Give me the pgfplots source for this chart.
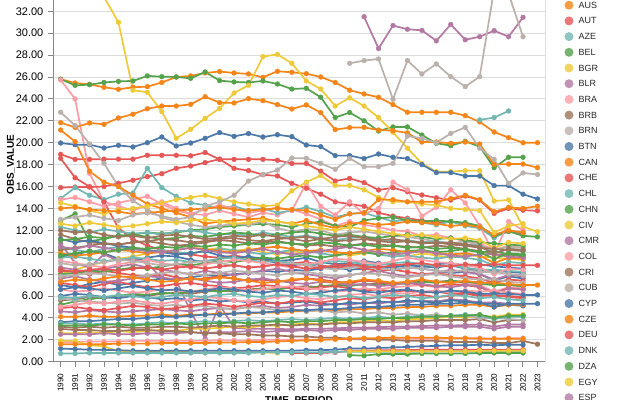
\documentclass[border=0pt]{standalone}
\usepackage{pgfplots}
\usepackage{pgfplotstable}
\pgfplotsset{compat=1.18}
\usepackage{fontspec}
\setmainfont{Liberation Sans}

\definecolor{cblue}{HTML}{4C78A8}
\definecolor{corange}{HTML}{F58518}
\definecolor{cred}{HTML}{E45756}
\definecolor{cteal}{HTML}{72B7B2}
\definecolor{cgreen}{HTML}{54A24B}
\definecolor{cyellow}{HTML}{EECA3B}
\definecolor{cpurple}{HTML}{B279A2}
\definecolor{cpink}{HTML}{FF9DA6}
\definecolor{cbrown}{HTML}{9D755D}
\definecolor{cgray}{HTML}{BAB0AC}
\definecolor{viewgray}{HTML}{DDDDDD}
\definecolor{axisgray}{HTML}{888888}

% one row per reporting area, one column per year
\pgfplotstableread{
name 1990 1991 1992 1993 1994 1995 1996 1997 1998 1999 2000 2001 2002 2003 2004 2005 2006 2007 2008 2009 2010 2011 2012 2013 2014 2015 2016 2017 2018 2019 2020 2021 2022 2023
ARG 9.6 9.8 10.1 9.9 9.4 9.2 9.5 9.7 9.6 9.3 9.1 9.4 9.6 9.5 9.3 9.0 8.8 8.9 8.6 8.7 8.9 8.8 8.5 8.4 8.6 8.5 8.3 8.1 8.2 8.0 7.4 7.8 7.6 nan
AUS 25.8 25.45 25.33 25.06 24.88 25.06 25.12 25.5 26.0 26.1 26.37 26.5 26.37 26.28 25.97 26.52 26.43 26.3 26.0 25.5 24.8 24.45 24.15 23.48 22.78 22.78 22.78 22.78 22.47 21.9 20.98 20.46 20.0 20.0
AUT 18.94 18.48 18.48 18.5 18.5 18.5 18.85 18.85 18.85 18.8 19.1 18.48 18.48 18.48 18.48 18.4 18.1 18.11 17.4 16.5 16.74 16.35 15.68 15.89 15.52 15.22 14.97 14.76 15.13 14.76 13.54 14.0 13.84 13.78
AZE nan nan nan nan nan nan nan nan nan nan nan nan nan nan nan nan nan nan nan nan nan nan nan nan nan nan nan nan nan 22.08 22.3 22.9 nan nan
BEL 25.8 25.24 25.3 25.5 25.6 25.64 26.1 26.03 26.0 25.88 26.46 25.67 25.55 25.5 25.64 25.36 24.9 24.97 24.15 22.3 22.75 22.0 21.07 21.44 21.44 20.7 19.95 19.73 20.13 19.64 17.72 18.67 18.67 nan
BGR 37 36 35 33.3 31.0 24.8 24.6 22.84 20.4 21.22 22.23 23.14 24.54 25.24 27.86 28.07 27.25 25.64 24.9 23.35 24.1 23.35 22.3 20.95 19.5 18.1 17.35 17.35 17.45 17.45 14.67 14.77 12.33 11.87
BLR nan nan nan nan nan nan nan nan nan nan nan nan nan nan nan nan nan nan nan nan nan 31.5 28.6 30.7 30.36 30.26 29.3 30.8 29.4 29.68 30.23 29.68 31.45 nan
BRA 25.73 24.0 17.2 14.6 14.2 13.8 14.3 14.6 14.0 13.5 13.4 13.8 13.5 13.2 13.6 13.4 13.9 13.5 13.0 12.4 12.8 12.5 12.3 12.0 11.9 11.5 11.6 11.3 11.0 10.8 10.2 10.6 10.4 nan
BRB 11.6 11.2 10.9 10.8 10.7 10.9 11.0 10.8 10.6 10.7 10.9 11.1 11.0 10.8 10.9 11.0 10.8 10.6 10.7 10.5 10.6 10.8 10.7 10.6 10.5 10.4 10.6 10.5 10.3 10.1 9.8 9.8 9.6 nan
BRN nan nan nan nan nan nan nan nan nan nan nan nan nan nan nan nan nan nan nan nan 27.25 27.5 27.65 23.96 27.5 26.28 27.19 26.03 25.12 26.03 34.0 33.6 29.68 nan
BTN 19.97 19.82 19.82 19.52 19.76 19.61 20.0 20.52 19.7 19.97 20.4 20.92 20.58 20.83 20.52 20.73 20.55 19.79 19.64 18.82 18.82 18.55 18.97 18.67 18.55 18.0 17.27 17.27 16.96 16.96 16.08 16.08 15.3 14.86
CAN 21.83 21.4 21.8 21.68 22.26 22.6 23.1 23.35 23.35 23.5 24.2 23.66 23.63 24.02 23.84 23.48 23.08 23.45 22.75 21.2 21.38 21.4 21.16 21.1 20.9 20.06 20.06 19.95 20.06 19.88 18.0 18.05 18.05 17.72
CHE 15.9 15.95 15.95 16.0 16.3 16.57 16.9 17.17 17.66 17.87 18.18 18.5 17.66 17.45 17.08 16.96 16.29 15.84 15.3 14.6 14.4 14.2 13.6 13.3 13.1 12.9 12.7 12.8 12.6 12.3 11.4 11.9 11.7 nan
CHL 14.9 15.9 15.2 14.8 15.3 15.4 17.66 15.9 15.1 14.5 14.3 14.0 14.2 13.8 14.0 13.6 13.8 14.1 13.7 13.2 13.5 13.6 13.2 12.8 13.0 12.7 12.5 12.8 12.4 12.2 11.3 12.0 11.8 nan
CHN 12.9 13.5 11.0 11.2 11.5 11.6 11.8 11.7 11.8 12.0 12.1 12.3 12.4 12.5 12.6 12.5 12.3 12.6 12.8 12.4 12.3 12.9 13.1 13.2 12.9 12.8 12.9 12.8 12.7 12.4 11.5 11.9 11.5 11.4
CIV 8.0 8.4 8.8 9.1 9.4 9.6 9.9 10.1 10.0 9.8 10.2 10.4 10.1 10.3 10.0 9.8 10.1 9.9 10.2 10.0 9.7 9.9 10.1 9.8 9.6 9.9 9.7 9.5 9.8 9.6 9.5 9.4 9.3 nan
CMR 10.8 9.0 8.6 9.8 9.2 9.4 9.0 7.6 7.4 4.6 2.1 5.2 3.1 3.0 3.0 3.0 2.95 3.0 3.0 3.05 3.1 3.1 3.15 3.2 3.2 3.25 3.3 3.3 3.35 3.4 3.2 3.4 3.4 nan
COL 14.8 15.0 14.6 14.2 14.5 14.8 15.1 14.4 13.8 13.5 13.9 14.3 14.0 13.6 13.8 14.1 13.8 16.3 14.2 13.4 14.6 13.5 14.0 16.4 15.7 13.3 14.1 15.7 14.5 12.4 9.8 12.8 12.0 nan
CRI 5.6 5.7 5.9 5.8 6.0 6.1 6.0 6.2 6.3 6.2 6.4 6.5 6.4 6.6 6.7 6.6 6.8 6.9 6.8 7.0 7.1 7.0 7.2 7.1 7.3 7.4 7.3 7.4 7.2 7.3 7.1 7.0 6.9 nan
CUB 22.78 21.56 19.88 18.12 16.0 14.7 13.9 13.2 12.8 12.5 12.3 12.4 12.6 12.5 12.8 12.2 11.9 12.1 12.0 11.6 11.8 11.9 11.7 11.5 11.4 11.2 11.0 10.8 11.0 10.6 10.2 10.5 10.4 nan
CYP 7.0 6.8 7.1 7.3 7.0 7.2 7.4 7.6 7.5 7.7 7.9 7.8 8.0 8.1 8.3 8.2 8.4 8.3 8.5 8.6 8.4 8.5 8.7 8.6 8.8 8.7 8.9 9.0 8.8 8.9 8.7 8.6 8.5 nan
CZE 21.16 20.1 17.4 16.4 16.0 15.2 14.4 14.0 13.6 13.2 12.6 12.8 12.9 13.0 13.1 12.8 12.6 12.9 12.5 12.2 12.6 12.7 12.5 12.6 12.8 12.7 12.6 12.4 12.5 12.3 11.6 12.0 11.8 nan
DEU 18.57 16.8 15.98 14.6 12.2 11.2 10.6 10.2 9.9 9.8 9.6 9.5 9.7 9.5 9.3 9.2 9.0 9.1 8.8 8.6 8.7 8.5 8.3 8.4 8.2 8.0 8.1 7.9 7.8 7.6 7.2 7.5 7.4 nan
DNK 10.4 10.2 10.0 10.3 10.5 10.3 10.1 10.2 10.0 9.9 10.1 10.3 10.2 10.0 9.8 10.0 10.2 10.1 9.9 9.7 9.9 10.0 9.8 9.6 9.7 9.5 9.4 9.6 9.5 9.3 8.8 9.1 9.0 nan
DZA 5.2 5.5 5.7 5.9 6.0 6.2 6.1 6.3 6.2 6.4 6.5 6.4 6.6 6.5 6.7 6.6 6.8 6.7 6.9 7.0 6.9 7.1 7.0 7.2 7.1 7.3 7.2 7.4 7.3 7.1 7.0 7.0 6.9 nan
EGY 14.5 14.2 13.8 13.5 13.9 14.0 14.2 14.5 14.8 15.0 15.2 14.9 14.6 14.4 14.2 14.3 15.6 16.4 17.0 16.1 16.1 15.7 15.0 14.6 14.6 14.4 14.3 14.0 13.9 13.8 11.8 12.4 12.6 nan
ESP 8.6 8.4 8.2 8.5 8.7 8.9 8.6 8.4 8.2 8.0 8.3 8.1 7.9 8.1 8.3 8.5 8.2 8.0 7.8 7.6 7.9 8.1 8.3 8.0 7.8 7.9 8.1 8.4 8.2 8.0 7.5 7.9 7.8 nan
EST 11.2 10.9 11.1 10.8 10.6 10.4 10.2 10.0 9.8 9.9 10.1 9.7 9.5 9.6 9.4 9.2 9.3 9.5 9.1 8.9 9.0 9.2 9.0 8.8 8.9 8.7 8.6 8.8 8.5 8.3 8.3 8.2 8.1 nan
ETH 14.0 14.1 13.9 13.8 13.7 13.5 13.6 13.7 13.8 13.9 14.0 14.1 13.9 13.8 13.9 14.0 13.9 13.8 13.4 13.0 13.5 13.6 14.8 14.8 14.6 14.6 14.6 14.9 15.2 14.8 13.7 14.1 14.0 14.2
FIN 7.2 7.0 6.8 7.1 7.3 7.0 6.8 6.9 7.1 7.2 7.0 6.9 6.7 6.8 7.0 6.9 6.7 6.6 6.8 6.9 6.7 6.5 6.6 6.4 6.5 6.3 6.4 6.2 6.3 6.1 6.0 6.0 5.9 nan
FRA 12.3 12.0 11.8 12.1 11.9 11.7 11.8 11.6 11.9 12.0 11.8 11.6 11.7 11.5 11.8 11.6 11.4 11.5 11.3 11.1 11.3 11.4 11.2 11.0 11.1 10.9 11.0 10.8 10.7 10.6 9.9 10.3 10.2 nan
GBR 11.1 11.2 11.4 11.3 11.5 11.6 11.4 11.2 11.3 11.5 11.4 11.6 11.8 11.7 11.5 11.6 11.8 11.9 11.7 11.5 11.6 11.4 11.3 11.5 11.6 11.4 11.2 11.3 11.1 10.9 10.8 10.7 10.6 nan
GEO 2.6 2.6 2.7 2.6 2.8 2.7 2.8 2.9 2.8 3.0 3.0 3.1 3.2 3.1 3.3 3.3 3.4 3.5 3.4 3.6 3.6 3.7 3.8 3.7 3.9 3.9 4.0 4.1 4.0 4.2 4.1 4.3 4.3 nan
GHA 4.6 4.5 4.7 4.6 4.5 4.6 4.7 4.8 4.7 4.6 4.8 4.9 4.8 5.0 5.1 4.9 5.0 5.2 5.1 5.3 5.2 5.4 5.3 5.5 5.4 5.6 5.5 5.7 5.6 5.4 5.4 5.3 5.2 nan
GRC 6.6 6.4 6.5 6.7 6.5 6.3 6.4 6.6 6.5 6.4 6.6 6.8 6.7 6.5 6.6 6.8 6.9 6.7 6.6 6.4 6.5 6.7 6.6 6.8 6.9 7.0 6.8 6.9 7.1 7.0 6.4 6.8 6.7 nan
HRV 3.2 3.1 3.2 3.1 3.2 3.1 3.1 3.2 3.2 3.1 3.2 3.3 3.2 3.3 3.3 3.4 3.3 3.4 3.4 3.5 3.5 3.6 3.6 3.6 3.7 3.7 3.8 3.8 3.8 3.9 3.6 3.8 3.8 nan
HUN 13.0 13.2 13.4 13.1 12.9 13.4 13.6 13.3 13.0 13.2 14.2 14.6 15.2 16.5 17.1 17.5 18.6 18.57 18.11 17.57 18.57 17.81 17.81 18.11 20.61 20.4 20.0 20.85 21.4 19.5 18.48 16.29 17.24 17.1
IDN 6.0 6.2 6.1 5.9 5.8 6.0 5.9 5.7 5.8 5.6 5.7 5.5 5.6 5.4 5.5 5.3 5.4 5.5 5.3 5.2 5.4 5.3 5.5 5.4 5.6 5.5 5.4 5.6 5.5 5.3 5.3 5.2 5.1 nan
IND 4.1 4.1 4.2 4.1 4.1 4.2 4.2 4.3 4.2 4.3 4.3 4.4 4.4 4.4 4.5 4.5 4.6 4.6 4.7 4.7 4.8 4.8 4.9 4.9 5.0 5.0 5.1 5.1 5.2 5.2 5.0 5.2 5.2 nan
IRL 8.4 8.2 8.0 8.3 8.1 7.9 7.8 8.0 7.7 7.5 7.6 7.8 7.6 7.4 7.5 7.3 7.4 7.6 7.5 7.3 7.2 7.4 7.3 7.1 7.2 7.0 6.9 7.1 7.0 6.8 6.3 6.7 6.6 nan
ISL 9.5 9.6 9.4 9.2 9.3 9.5 9.4 9.2 9.3 9.1 9.2 9.4 9.5 9.3 9.1 9.2 9.0 8.8 9.0 9.2 9.1 8.9 8.8 9.0 9.1 8.9 8.7 8.8 8.6 8.4 8.4 8.3 8.2 nan
ISR 8.0 8.1 8.3 8.2 8.4 8.6 8.5 8.7 8.9 8.8 9.0 9.2 9.1 9.3 9.5 9.4 9.6 9.7 9.5 9.7 9.9 10.0 9.8 10.0 10.1 10.2 10.0 10.1 10.3 10.0 10.1 9.8 9.7 nan
ITA 12.6 12.4 12.7 12.5 12.3 12.4 12.6 12.8 12.7 12.9 13.0 12.8 12.6 12.7 12.9 12.8 12.6 12.4 12.2 12.0 12.3 12.1 11.9 11.7 11.5 11.6 11.4 11.2 11.3 11.1 10.4 10.9 10.8 nan
JAM 7.6 7.8 7.5 7.3 7.4 7.6 7.8 7.7 7.5 7.6 7.4 7.2 7.3 7.5 7.6 7.4 7.2 7.1 7.3 7.2 7.0 7.1 6.9 7.0 7.2 7.1 6.9 6.8 7.0 6.9 6.2 6.7 6.6 nan
JPN 1.8 1.8 1.85 1.85 1.85 1.9 1.9 1.9 1.9 1.9 1.9 1.95 1.95 1.95 2.0 2.0 2.0 2.0 2.0 2.05 2.05 2.05 2.1 2.1 2.1 2.1 2.1 2.15 2.15 2.15 2.1 2.15 2.15 nan
KAZ 10.2 10.4 10.6 10.8 10.7 10.9 11.0 11.2 11.1 10.9 11.0 11.2 11.3 11.1 11.0 11.2 11.3 11.4 11.2 11.0 11.1 11.2 11.0 10.9 11.0 10.8 10.9 10.7 10.6 10.4 10.3 10.2 10.1 nan
KEN 5.8 5.6 5.5 5.4 5.3 5.4 5.2 5.1 5.2 5.0 5.1 4.9 4.8 5.0 4.9 4.7 4.8 4.6 4.7 4.5 4.6 4.4 4.5 4.3 4.4 4.2 4.3 4.1 4.2 4.0 4.0 3.9 3.8 nan
KOR 3.6 3.7 3.7 3.8 3.9 3.9 4.0 4.1 4.1 4.2 4.3 4.3 4.4 4.5 4.5 4.6 4.7 4.7 4.8 4.8 4.9 5.0 5.0 5.1 5.2 5.2 5.3 5.3 5.4 5.4 5.0 5.3 5.3 5.3
LKA 9.9 9.7 9.8 10.0 10.2 10.1 9.9 10.0 10.2 10.4 10.3 10.1 10.0 10.2 10.4 10.5 10.3 10.1 10.2 10.0 9.9 10.1 10.3 10.2 10.0 10.1 9.9 9.8 9.9 9.7 9.0 9.5 9.4 nan
LTU 4.9 5.0 4.8 4.7 4.9 5.1 5.0 4.8 4.9 5.1 5.3 5.2 5.0 5.2 5.4 5.3 5.5 5.6 5.4 5.6 5.8 5.7 5.9 5.8 6.0 6.1 5.9 6.0 6.2 6.0 6.1 5.9 5.8 nan
LUX 3.5 3.5 3.4 3.5 3.4 3.4 3.5 3.6 3.5 3.6 3.7 3.6 3.7 3.8 3.7 3.8 3.9 3.8 3.9 4.0 3.9 4.0 4.1 4.0 4.1 4.2 4.1 4.2 4.3 4.2 3.9 4.1 4.1 nan
LVA 3.3 3.3 3.3 3.4 3.4 3.3 3.4 3.4 3.5 3.4 3.5 3.5 3.6 3.5 3.6 3.7 3.6 3.7 3.7 3.8 3.8 3.9 3.9 4.0 4.0 4.1 4.1 4.2 4.2 4.3 4.0 4.2 4.2 nan
MAR 1.9 1.9 1.5 1.4 0.95 0.9 0.9 0.9 0.9 0.9 0.8 0.85 0.85 0.85 0.85 0.8 nan nan nan nan nan nan nan nan nan nan nan nan nan nan nan nan nan nan
MEX 2.5 2.5 2.5 2.6 2.5 2.5 2.6 2.6 2.6 2.7 2.6 2.7 2.7 2.8 2.7 2.8 2.8 2.9 2.8 2.9 2.9 3.0 3.0 3.0 3.1 3.1 3.1 3.2 3.2 3.2 3.0 3.2 3.2 nan
MLT 9.2 9.0 8.8 8.6 8.9 9.1 9.3 9.0 8.8 8.6 8.9 9.1 9.3 9.2 9.0 8.8 8.6 8.9 9.1 9.4 9.3 9.1 8.9 9.2 9.5 9.3 9.1 9.0 8.8 8.6 8.0 8.5 8.4 nan
MNG 3.0 2.9 2.9 2.8 2.8 2.9 2.9 2.8 2.8 2.7 2.6 2.6 2.5 2.5 2.4 2.4 2.3 2.3 2.2 2.2 2.1 2.1 2.0 2.0 1.9 1.9 1.9 1.8 1.8 1.8 1.7 1.7 1.9 1.6
NLD 7.8 7.9 8.1 8.0 7.8 7.7 7.9 8.1 8.2 8.0 7.9 8.1 8.3 8.2 8.0 7.9 8.1 8.2 8.0 7.8 7.9 8.1 8.0 7.8 7.7 7.9 8.0 7.8 7.6 7.5 7.5 7.3 7.2 nan
NOR 1.2 1.15 1.1 1.08 1.05 1.0 1.0 1.0 1.0 1.0 1.0 1.0 1.0 1.0 1.0 1.0 1.0 1.05 1.05 1.1 1.2 1.2 1.25 1.3 1.35 1.4 1.45 1.5 1.5 1.55 1.5 1.55 1.55 nan
NZL 1.6 1.6 1.6 1.6 1.65 1.65 1.65 1.7 1.7 1.7 1.7 1.75 1.75 1.8 1.8 1.85 1.9 1.95 2.0 2.05 2.1 2.15 2.15 2.2 2.2 2.2 2.2 2.15 2.15 2.1 2.1 2.1 2.1 nan
PER nan nan nan nan nan nan nan nan nan nan nan nan nan nan nan nan 0.8 0.8 0.8 0.85 1.0 1.0 1.05 1.05 1.05 1.1 1.1 1.1 1.1 1.1 1.1 1.1 1.1 nan
PHL 0.75 0.75 0.8 0.8 0.8 0.8 0.8 0.8 0.8 0.8 0.8 0.8 0.8 0.8 0.85 0.85 0.85 0.85 0.85 0.9 0.9 0.9 0.9 0.9 0.9 0.9 0.95 0.95 0.95 0.95 0.95 0.95 0.95 nan
POL nan nan nan nan nan nan nan nan nan nan nan nan nan nan nan nan nan nan nan nan 0.6 0.55 0.7 0.7 0.7 0.75 0.75 0.75 0.75 0.8 0.8 0.8 0.8 nan
PRT nan nan nan nan nan nan nan nan nan nan nan nan nan nan nan nan nan nan nan nan 0.95 0.95 0.95 0.95 0.95 0.95 0.95 0.95 0.95 1.0 1.0 1.0 1.0 nan
ROU 10.5 10.3 10.6 10.4 10.2 10.3 10.1 10.0 10.2 10.4 10.2 10.0 9.9 10.1 10.3 10.0 9.8 9.9 10.1 10.3 10.5 10.2 10.0 9.8 9.9 10.1 9.9 9.7 9.6 9.8 9.8 9.6 9.5 nan
SVK 5.0 5.2 5.4 5.3 5.5 5.6 5.4 5.3 5.5 5.7 5.9 5.8 5.6 5.5 5.7 5.9 6.0 5.8 5.7 5.9 6.1 6.2 6.0 6.3 6.2 6.4 6.5 6.3 6.5 6.4 6.5 6.3 6.2 nan
SVN 12.0 11.8 11.9 11.6 11.4 11.5 11.3 11.5 11.6 11.4 11.2 11.3 11.5 11.4 11.6 11.4 11.2 11.0 11.2 11.4 11.5 11.3 11.1 11.2 11.0 10.9 10.8 10.9 10.7 10.5 9.9 10.3 10.2 nan
SWE 9.0 8.8 8.9 9.1 9.3 9.2 9.0 8.8 8.9 9.1 9.2 9.0 8.8 8.6 8.7 8.9 9.0 8.8 8.6 8.4 8.6 8.7 8.5 8.4 8.6 8.5 8.3 8.2 8.4 8.2 8.2 8.0 7.9 nan
THA 6.6 6.8 6.7 6.5 6.7 6.9 6.7 6.5 6.6 6.4 6.5 6.7 6.6 6.4 6.3 6.5 6.4 6.2 6.3 6.5 6.6 6.4 6.3 6.5 6.6 6.4 6.3 6.5 6.4 6.2 6.2 6.2 6.1 6.1
TUR 7.3 7.5 7.4 7.6 7.8 7.7 7.5 7.3 7.4 7.6 7.5 7.7 7.6 7.4 7.2 7.3 7.5 7.6 7.4 7.2 7.3 7.5 7.4 7.2 7.3 7.5 7.3 7.2 7.4 7.2 7.2 7.1 7.0 7.0
USA 8.3 8.2 8.4 8.5 8.3 8.5 8.6 8.4 8.6 8.7 8.5 8.7 8.8 8.6 8.7 8.9 8.7 8.5 8.6 8.8 8.9 8.7 8.6 8.8 8.9 9.0 8.8 8.7 8.9 8.8 8.9 8.8 8.8 8.8
VNM 5.9 5.8 6.0 5.9 6.1 6.0 5.8 5.9 6.1 6.0 5.9 6.1 6.2 6.0 5.9 6.1 6.0 6.2 6.1 5.9 6.0 5.8 5.9 6.1 6.0 5.8 5.9 6.1 6.0 5.8 5.9 5.7 5.6 nan
ZAF 9.7 9.9 10.1 10.0 10.2 10.4 10.3 10.5 10.4 10.6 10.5 10.7 10.6 10.8 10.7 10.9 10.8 10.7 10.9 10.8 10.6 10.7 10.5 10.6 10.4 10.5 10.3 10.4 10.2 10.0 9.4 9.9 9.8 nan
}\raw
% years become rows, areas become columns
\pgfplotstabletranspose[colnames from=name]\data\raw

\pgfplotsset{
  panel/.style={
    scale only axis, width=492bp, height=394.2bp,
    at={(53bp,-361.7bp)}, anchor=south west,
    xmin=1989.47, xmax=2023.52, ymin=0, ymax=36,
  },
}

% every area with its colour, in drawing order
\newcommand{\allseries}{%
\series{ARG}{cblue}\series{AUS}{corange}\series{AUT}{cred}\series{AZE}{cteal}\series{BEL}{cgreen}%
\series{BGR}{cyellow}\series{BLR}{cpurple}\series{BRA}{cpink}\series{BRB}{cbrown}\series{BRN}{cgray}%
\series{BTN}{cblue}\series{CAN}{corange}\series{CHE}{cred}\series{CHL}{cteal}\series{CHN}{cgreen}%
\series{CIV}{cyellow}\series{CMR}{cpurple}\series{COL}{cpink}\series{CRI}{cbrown}\series{CUB}{cgray}%
\series{CYP}{cblue}\series{CZE}{corange}\series{DEU}{cred}\series{DNK}{cteal}\series{DZA}{cgreen}%
\series{EGY}{cyellow}\series{ESP}{cpurple}%
\series{EST}{cblue}\series{ETH}{corange}\series{FIN}{cred}\series{FRA}{cteal}\series{GBR}{cgreen}%
\series{GEO}{cyellow}\series{GHA}{cpurple}\series{GRC}{cpink}\series{HRV}{cbrown}\series{HUN}{cgray}%
\series{IDN}{cblue}\series{IND}{corange}\series{IRL}{cred}\series{ISL}{cteal}\series{ISR}{cgreen}%
\series{ITA}{cyellow}\series{JAM}{cpurple}\series{JPN}{cpink}\series{KAZ}{cbrown}\series{KEN}{cgray}%
\series{KOR}{cblue}\series{LKA}{corange}\series{LTU}{cred}\series{LUX}{cteal}\series{LVA}{cgreen}%
\series{MAR}{cyellow}\series{MEX}{cpurple}\series{MLT}{cpink}\series{MNG}{cbrown}\series{NLD}{cgray}%
\series{NOR}{cblue}\series{NZL}{corange}\series{PER}{cred}\series{PHL}{cteal}\series{POL}{cgreen}%
\series{PRT}{cyellow}\series{ROU}{cpurple}\series{SVK}{cpink}\series{SVN}{cbrown}\series{SWE}{cgray}%
\series{THA}{cblue}\series{TUR}{corange}\series{USA}{cred}\series{VNM}{cteal}\series{ZAF}{cgreen}%
}

\begin{document}
\begin{tikzpicture}
\useasboundingbox (0bp,0bp) rectangle (640bp,-400bp);
\clip (0bp,0bp) rectangle (640bp,-400bp);

% lines
\begin{axis}[panel,
  axis line style={draw=viewgray, line width=1bp},
  ymajorgrids, major grid style={draw=viewgray, line width=1bp},
  tick pos=left, tick align=outside, major tick length=5bp,
  tick style={draw=axisgray, line width=1bp},
  xtick={1990,...,2023}, ytick={0,2,...,32},
  /pgf/number format/assume math mode=true,
  xticklabel={\pgfmathprintnumber[fixed,precision=0,1000 sep=]{\tick}},
  yticklabel={\pgfmathprintnumber[fixed,fixed zerofill,precision=2]{\tick}},
  xticklabel style={rotate=90, anchor=east, inner sep=0pt, font=\fontsize{8.2}{9}\selectfont},
  yticklabel style={anchor=east, inner sep=0pt, font=\fontsize{11}{13}\selectfont},
  xticklabel shift=6.6bp, yticklabel shift=4.5bp,
  xlabel={TIME\_PERIOD}, ylabel={OBS\_VALUE},
  xlabel style={at={(axis description cs:0.5,0)}, anchor=north, inner sep=0pt, yshift=-34.5bp, font=\bfseries\fontsize{10}{12}\selectfont},
  ylabel style={at={(axis description cs:-0.0854,0.5)}, anchor=center, inner sep=0pt, font=\bfseries\fontsize{10}{12}\selectfont},
  after end axis/.code={\draw[axisgray, line width=1bp] (rel axis cs:0,1) -- (rel axis cs:0,0) -- (rel axis cs:1,0);},
]
\newcommand{\series}[2]{\addplot[#2, no markers, line width=1.7bp, line join=round] table[x=colnames, y=#1]{\data};}
\allseries
\end{axis}

% points on top of every line
\begin{axis}[panel, hide axis]
\newcommand{\series}[2]{\addplot[#2, only marks, mark=*, mark size=2.4bp] table[x=colnames, y=#1]{\data};}
\allseries
\end{axis}

% legend
\foreach \n/\c [count=\i from 0] in {AUS/corange,AUT/cred,AZE/cteal,BEL/cgreen,BGR/cyellow,BLR/cpurple,BRA/cpink,BRB/cbrown,BRN/cgray,BTN/cblue,CAN/corange,CHE/cred,CHL/cteal,CHN/cgreen,CIV/cyellow,CMR/cpurple,COL/cpink,CRI/cbrown,CUB/cgray,CYP/cblue,CZE/corange,DEU/cred,DNK/cteal,DZA/cgreen,EGY/cyellow,ESP/cpurple}{
  \fill[\c, fill opacity=0.8] (569bp,{-5.2bp-15.7bp*\i}) circle (4.5bp);
  \node[anchor=west, inner sep=0pt, text=black!85, font=\fontsize{9}{11}\selectfont] at (578.5bp,{-5.2bp-15.7bp*\i}) {\n};
}
\end{tikzpicture}
\end{document}
